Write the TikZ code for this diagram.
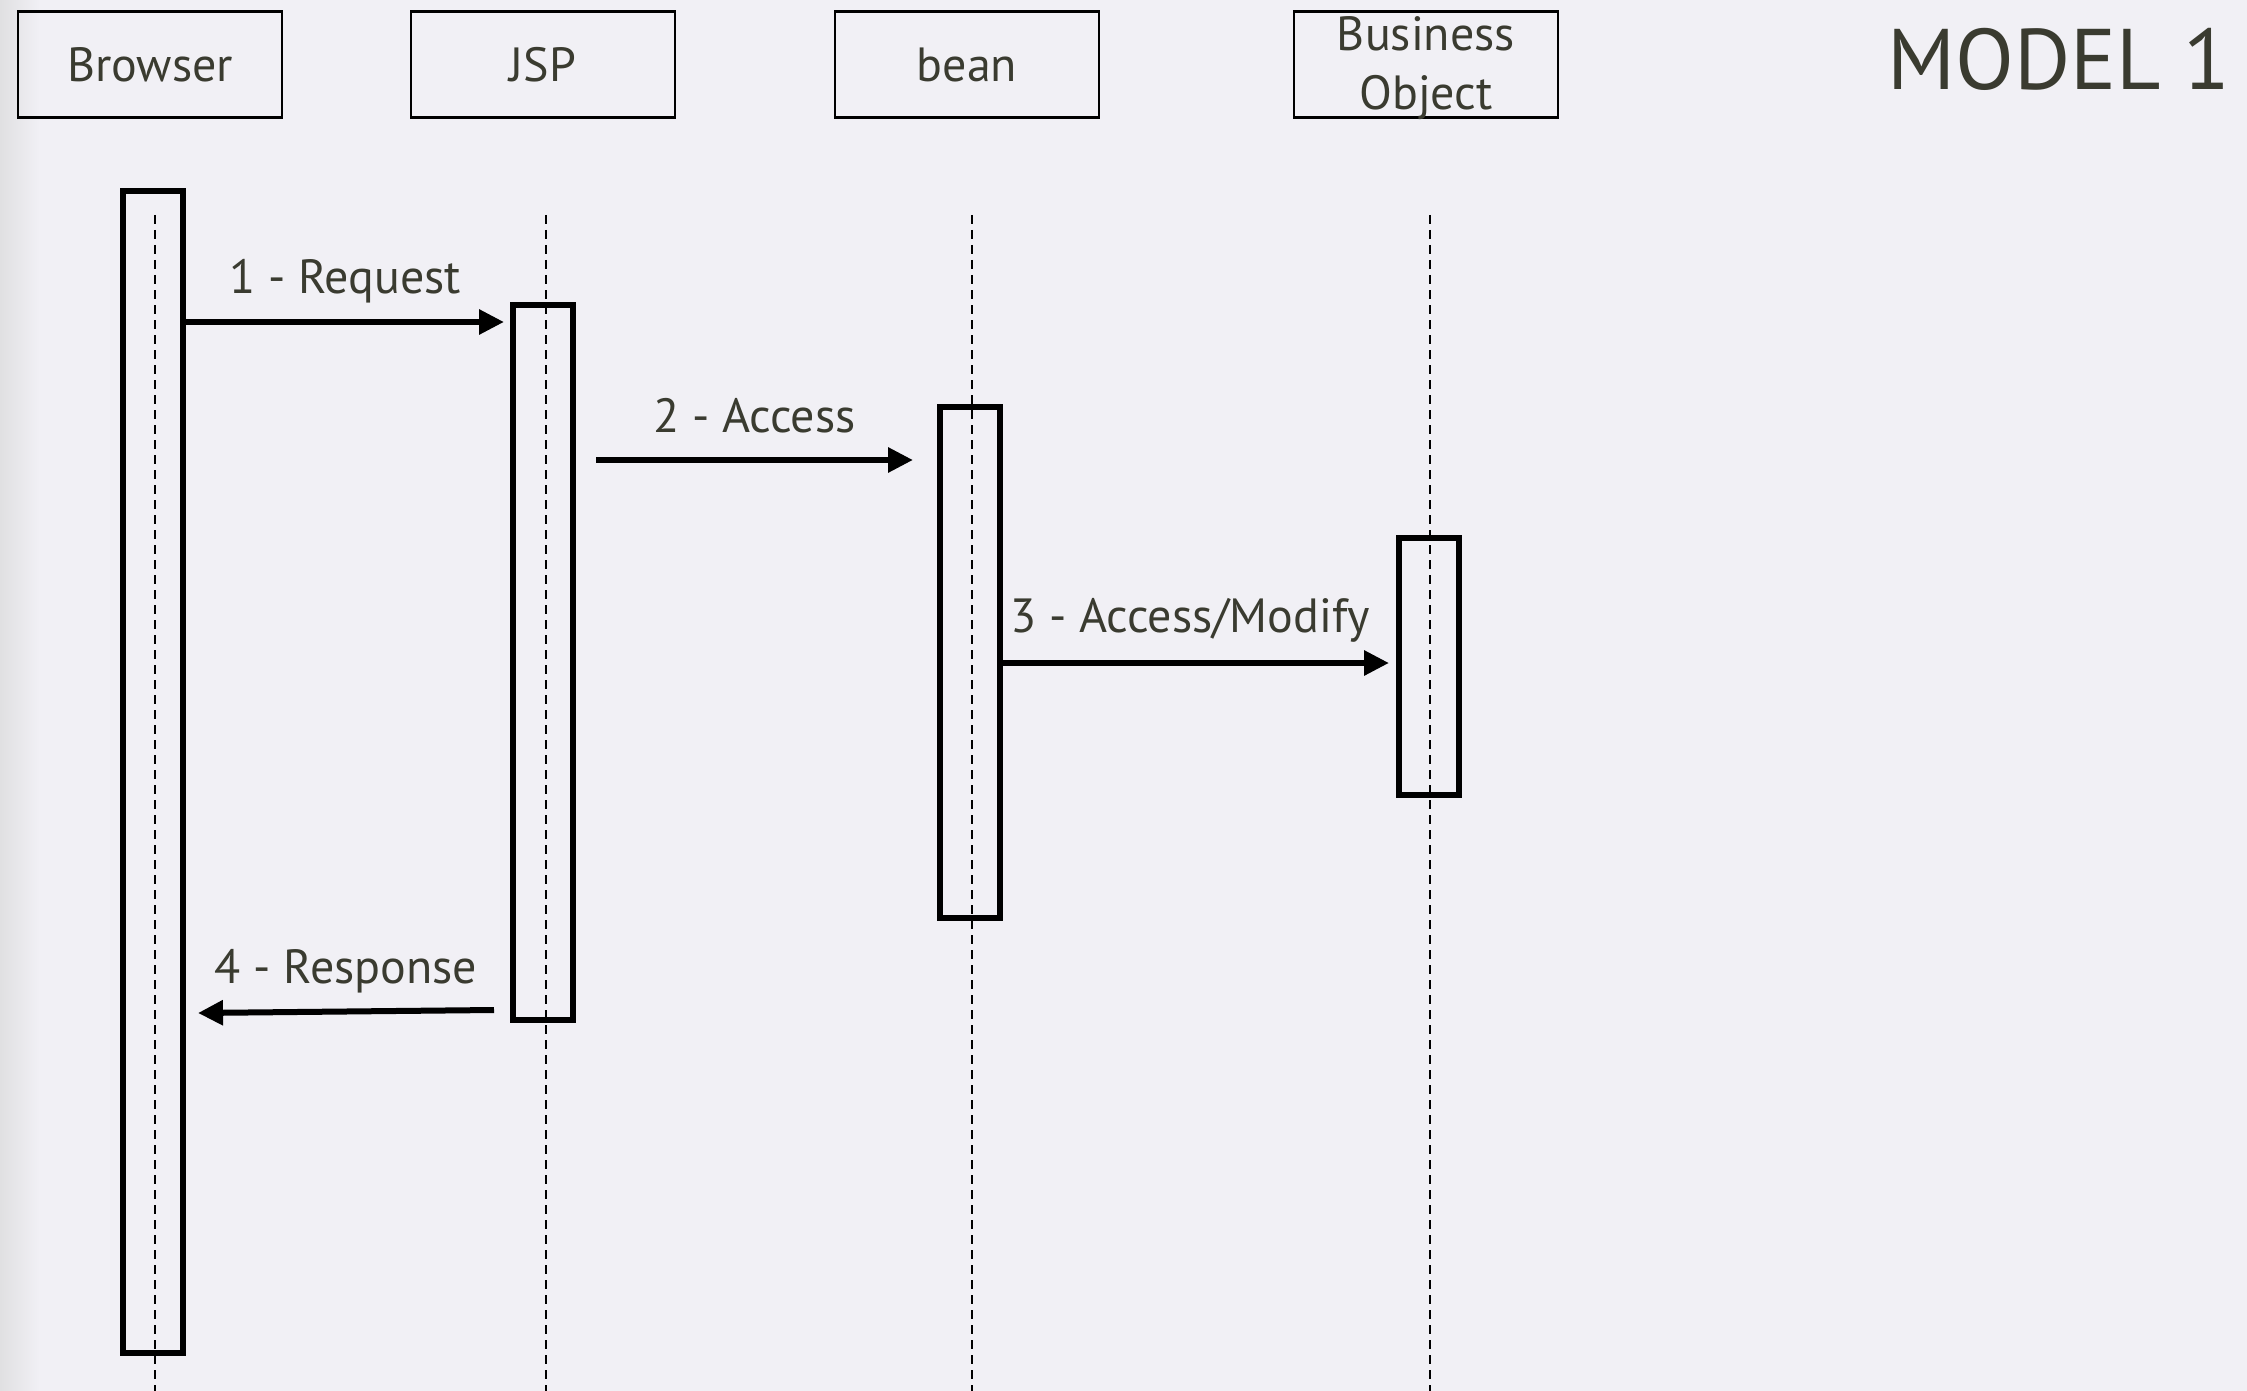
\documentclass[tikz,border=0pt]{standalone}
\usepackage{fontspec}
\setmainfont{PT Sans}
\usetikzlibrary{arrows.meta}
\definecolor{bg}{RGB}{241,240,245}
\definecolor{bgedge}{RGB}{224,224,226}
\definecolor{txt}{RGB}{58,59,48}
\begin{document}
\begin{tikzpicture}[x=1pt,y=-1pt,
  head/.style={draw=black, line width=2.8pt, minimum width=264pt, minimum height=106pt, inner sep=0pt, font=\fontsize{48}{59}\selectfont, text=txt, align=center},
  headtext/.style={inner sep=0pt, font=\fontsize{48}{59}\selectfont, text=txt, align=center},
  actbar/.style={draw=black, line width=6pt, minimum width=60pt, inner sep=0pt},
  life/.style={draw=black, line width=2.5pt, dash pattern=on 9pt off 6pt},
  msg/.style={draw=black, line width=6pt, -{Triangle[length=25pt,width=24pt]}},
  lbl/.style={font=\fontsize{48}{56}\selectfont, text=txt, inner sep=0pt, anchor=base, yshift=28pt}]
\fill[bg] (0,0) rectangle (2247,1391);
\shade[left color=bgedge, right color=bg] (0,0) rectangle (40,1391);
\useasboundingbox (0,0) rectangle (2247,1391);

% header boxes
\node[head] (hb) at (150,64.5) {Browser};
\node[head] (hj) at (543,64.5) {JSP};
\node[head] (hbean) at (967,64.5) {bean};
\node[head] (hbo) at (1426,64.5) {};
\node[headtext, yshift=-4pt] (hbotext) at (hbo.center) {Business\\Object};
\node[font=\fontsize{86}{94}\selectfont, text=txt, inner sep=0pt, anchor=base] (title) at (2059,90) {MODEL 1};

% lifelines
\coordinate (lbT) at (155,215); \coordinate (lbB) at (155,1391);
\coordinate (ljT) at (546,215); \coordinate (ljB) at (546,1391);
\coordinate (lnT) at (972,215); \coordinate (lnB) at (972,1391);
\coordinate (loT) at (1430,215); \coordinate (loB) at (1430,1391);
\draw[life] (lbT) -- (lbB);
\draw[life] (ljT) -- (ljB);
\draw[life] (lnT) -- (lnB);
\draw[life] (loT) -- (loB);

% activation bars
\node[actbar, minimum height=1162pt] (bbar) at (153,772) {};
\node[actbar, minimum height=715pt] (jbar) at (543,662.5) {};
\node[actbar, minimum height=511pt] (nbar) at (970,662.5) {};
\node[actbar, minimum height=257pt] (obar) at (1429,666.5) {};

% messages
\draw[msg] ([yshift=-134pt]bbar.north east) -- node[lbl, midway] (m1) {1 - Request} ([xshift=-6pt,yshift=-20pt]jbar.north west);
\draw[msg] ([xshift=20pt,yshift=-158pt]jbar.north east) -- node[lbl, midway] (m2) {2 - Access} ([xshift=-24pt,yshift=-56pt]nbar.north west);
\draw[msg] ([yshift=-259pt]nbar.north east) -- node[lbl, midway, xshift=-6pt, yshift=3pt] (m3) {3 - Access/Modify} ([xshift=-7pt,yshift=-128pt]obar.north west);
\draw[msg] ([xshift=-16pt,yshift=13pt]jbar.south west) -- node[lbl, midway] (m4) {4 - Response} ([xshift=12pt,yshift=-825pt]bbar.north east);
\end{tikzpicture}
\end{document}
